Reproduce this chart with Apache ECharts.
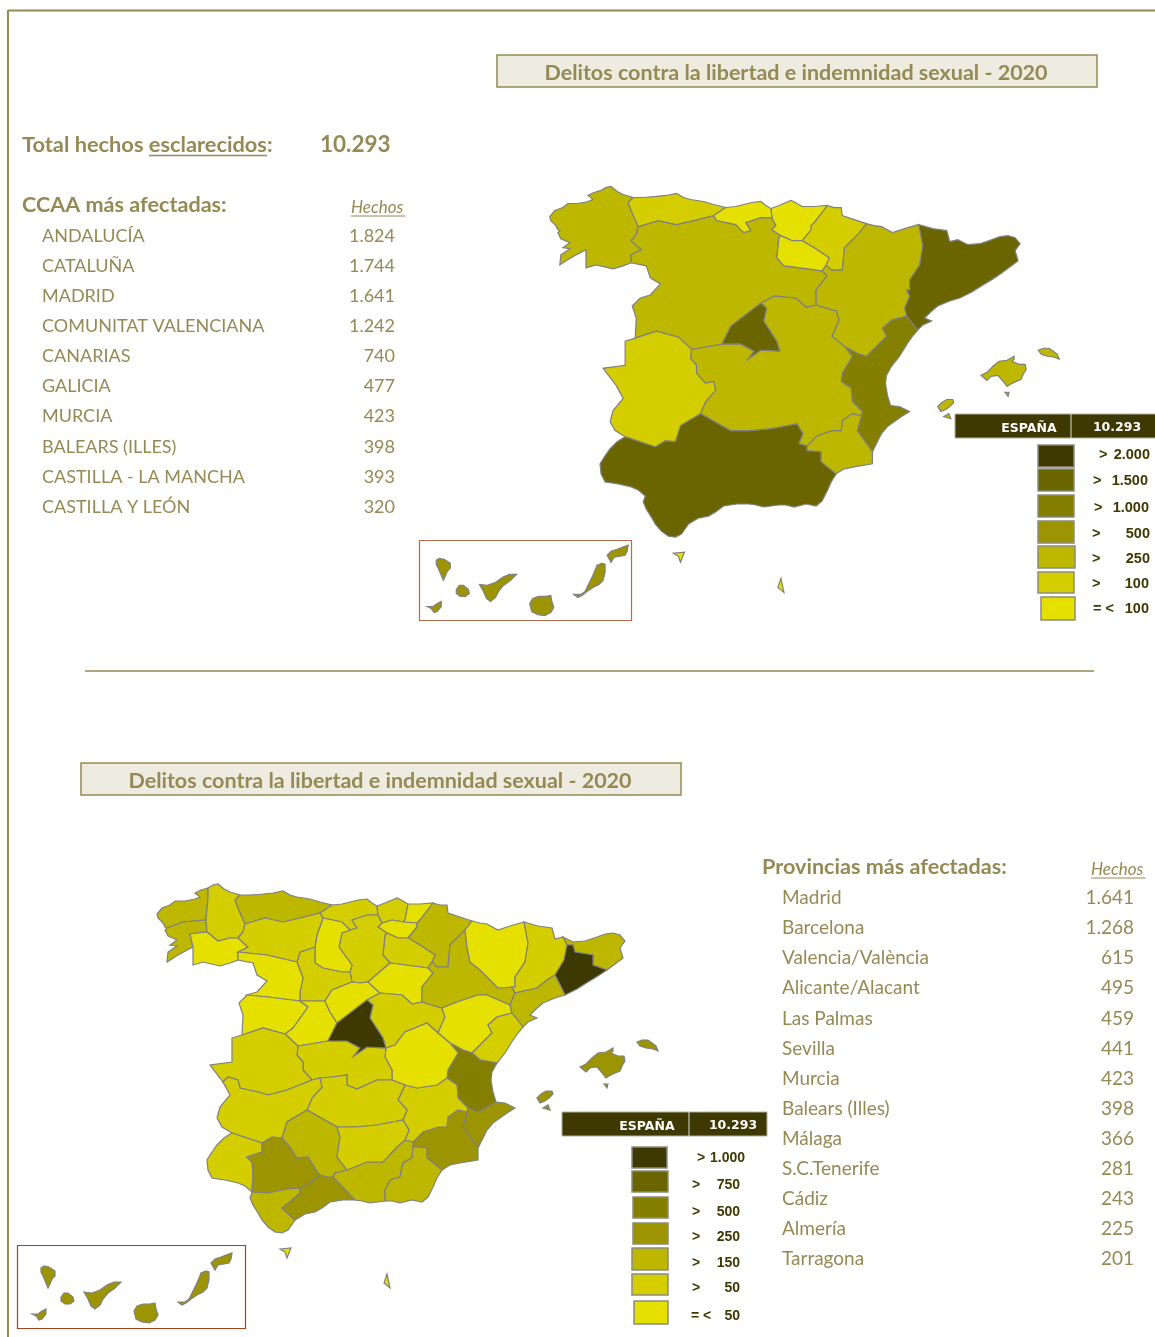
<!DOCTYPE html>
<html>
<head>
<meta charset="utf-8">
<title>Delitos contra la libertad e indemnidad sexual - 2020</title>
<style>
  html, body { margin: 0; padding: 0; background: #fff; }
  #chart { width: 1155px; height: 1337px; }
</style>
<script src="https://cdn.jsdelivr.net/npm/echarts@6/dist/echarts.min.js"></script>
</head>
<body>
<div id="chart"></div>
<script>
// hechos por CCAA: los 10 primeros salen de la tabla, el resto estimado por el color del mapa
const ccaaNames = ['ANDALUCÍA', 'CATALUÑA', 'MADRID', 'COMUNITAT VALENCIANA', 'CANARIAS', 'GALICIA', 'MURCIA', 'BALEARS (ILLES)', 'CASTILLA - LA MANCHA', 'CASTILLA Y LEÓN', 'ARAGÓN', 'ASTURIAS', 'NAVARRA', 'EXTREMADURA', 'PAÍS VASCO', 'CANTABRIA', 'LA RIOJA', 'CEUTA', 'MELILLA']
const ccaaValues = [1824, 1744, 1641, 1242, 740, 477, 423, 398, 393, 320, 260, 155, 155, 115, 90, 54, 51, 5, 6]
const ccaaListed = 10

// hechos por provincia: los 13 primeros salen de la tabla, el resto estimado
const provNames = ['Madrid', 'Barcelona', 'Valencia/València', 'Alicante/Alacant', 'Las Palmas', 'Sevilla', 'Murcia', 'Balears (Illes)', 'Málaga', 'S.C.Tenerife', 'Cádiz', 'Almería', 'Tarragona',
  'Lleida', 'Girona', 'Castellón', 'Granada', 'Córdoba', 'Huelva', 'Jaén', 'A Coruña', 'Pontevedra', 'Lugo', 'Ourense', 'Asturias', 'Cantabria', 'Bizkaia', 'Gipuzkoa', 'Álava', 'Navarra', 'La Rioja',
  'León', 'Palencia', 'Burgos', 'Zamora', 'Valladolid', 'Soria', 'Salamanca', 'Ávila', 'Segovia', 'Zaragoza', 'Huesca', 'Teruel', 'Guadalajara', 'Cuenca', 'Toledo', 'Ciudad Real', 'Albacete', 'Cáceres', 'Badajoz', 'Ceuta', 'Melilla']
const provValues = [1641, 1268, 615, 495, 459, 441, 423, 398, 366, 281, 243, 225, 201,
  100, 175, 132, 195, 170, 95, 89, 190, 172, 70, 45, 155, 54, 55, 22, 13, 155, 51,
  70, 20, 55, 20, 60, 10, 45, 15, 25, 175, 45, 40, 55, 23, 140, 100, 75, 55, 60, 5, 6]
const provListed = 13

const totalHechos = '10.293'

// tramos de la leyenda, de mayor a menor
const legendColors = ['#3e3900', '#6b6500', '#857f00', '#9c9400', '#bdb700', '#d4cd00', '#e6e000']
const ccaaLimits = [2000, 1500, 1000, 500, 250, 100]
const ccaaLegendOps = ['>', '>', '>', '>', '>', '>', '= <']
const ccaaLegendVals = ['2.000', '1.500', '1.000', '500', '250', '100', '100']
const provLimits = [1000, 750, 500, 250, 150, 50]
const provLegendOps = ['>', '>', '>', '>', '>', '>', '= <']
const provLegendVals = ['1.000', '750', '500', '250', '150', '50', '50']

// contornos calcados a mano (unidades de mapa, y hacia abajo); varios anillos separados por |
const provShapes = {
  'A Coruña': '167,928 165,927 163,923 158,918 157,914 162,908 170,905 175,901 185,901 195,899 200,897 195,893 201,890 208,888 208,898 206,920 183,922',
  'Pontevedra': '167,962 168,952 177,946 170,945 177,940 168,936 165,930 167,928 183,922 206,920 207,932 190,934 193,947 178,955',
  'Lugo': '208,888 213,885 218,884 224,889 230,892 240,895 235,900 238,908 245,924 243,932 238,938 230,938 218,941 207,932 206,920 208,898',
  'Ourense': '190,934 207,932 218,941 230,938 238,938 248,947 238,952 238,960 230,963 220,966 203,962 193,965 193,947',
  'Asturias': '240,895 250,895 263,894 273,893 283,891 290,895 297,897 310,899 320,902 332,905 320,913 300,918 283,922 265,918 245,924 238,908 235,900',
  'Cantabria': '332,905 342,904 350,902 358,900 367,899 372,903 377,906 378,915 367,915 352,920 357,928 350,930 342,922 323,918 320,913',
  'Bizkaia': '377,906 385,903 397,898 403,901 408,904 405,920 403,922 392,920 382,923 378,915',
  'Gipuzkoa': '408,904 420,904 433,903 420,920 417,923 403,922 405,920',
  'Álava': '382,923 392,920 403,922 417,923 417,927 408,938 398,938 387,933 378,927',
  'Navarra': '433,903 440,905 447,905 448,913 460,917 472,921 465,930 450,945 448,967 437,967 432,962 435,955 420,945 408,938 417,927 417,923 420,920',
  'La Rioja': '385,935 387,933 398,938 408,938 420,945 435,955 432,962 428,968 413,966 398,964 390,963 383,955',
  'Burgos': '367,915 378,915 382,923 378,927 387,933 385,935 383,955 390,963 368,982 360,983 352,982 350,972 352,965 339,947 342,933 350,930 357,928 352,920',
  'Palencia': '323,918 342,922 350,930 342,933 339,947 352,965 350,972 342,972 323,968 315,963 315,947 317,935',
  'Valladolid': '300,952 315,947 315,963 323,968 342,972 350,972 352,982 332,990 325,1001 307,1001 300,1001 300,992 303,978 297,962',
  'León': '245,924 265,918 283,922 300,918 320,913 323,918 317,935 315,947 300,952 297,962 267,955 238,952 248,947 238,938 243,932',
  'Zamora': '238,952 267,955 297,962 303,978 300,992 300,1001 268,997 247,995 257,992 267,981 257,975 253,963 238,960',
  'Salamanca': '247,995 268,997 300,1001 308,1007 293,1028 285,1034 263,1028 242,1035 243,1015 239,1003',
  'Ávila': '300,1001 307,1001 325,1001 330,1012 337,1023 328,1041 298,1046 285,1034 293,1028 308,1007',
  'Segovia': '325,1001 332,990 352,982 360,983 368,982 380,993 367,1000 363,1003 350,1013 337,1023 330,1012',
  'Soria': '390,963 398,964 413,966 428,968 433,973 422,987 422,1002 412,1004 402,995 380,993 368,982',
  'Guadalajara': '380,993 402,995 412,1004 422,1002 442,1008 445,1017 438,1033 427,1023 405,1032 395,1045 386,1048 383,1038 370,1018 373,1005 367,1000',
  'Zaragoza': '465,930 467,947 470,962 480,970 498,988 512,987 515,993 510,1005 487,995 478,995 457,1002 442,1008 422,1002 422,987 433,973 428,968 432,962 437,967 448,967 450,945',
  'Huesca': '472,921 480,923 487,924 498,930 510,926 524,922 528,943 525,962 515,977 515,987 512,987 498,988 480,970 470,962 467,947 465,930',
  'Teruel': '442,1008 457,1002 478,995 487,995 510,1005 512,1013 497,1017 488,1025 492,1033 480,1045 472,1053 463,1050 450,1043 438,1033 445,1017',
  'Lleida': '524,922 538,926 552,928 555,939 563,937 567,945 564,960 555,975 547,980 537,988 515,993 512,987 515,987 515,977 525,962 528,943',
  'Girona': '563,937 573,942 585,941 597,937 605,934 613,933 620,935 625,941 620,948 623,958 607,970 593,965 593,955 575,952 573,945 567,945',
  'Barcelona': '567,945 573,945 575,952 593,955 593,965 607,970 598,976 588,982 577,989 565,995 555,975 564,960',
  'Tarragona': '555,975 565,995 555,998 543,1003 536,1009 530,1015 537,1018 528,1022 523,1027 512,1013 510,1005 515,993 537,988 547,980',
  'Castellón': '512,1013 523,1027 518,1033 513,1040 505,1053 497,1063 480,1060 472,1053 480,1045 492,1033 488,1025 497,1017',
  'Valencia/València': '450,1043 463,1050 472,1053 480,1060 497,1063 492,1072 491,1080 493,1092 496,1102 478,1112 468,1108 458,1098 457,1085 447,1078 448,1070 458,1053',
  'Alicante/Alacant': '468,1108 478,1112 496,1102 505,1103 515,1108 507,1113 500,1118 493,1123 487,1130 482,1140 478,1148 463,1127 467,1112',
  'Murcia': '413,1142 423,1132 438,1127 447,1127 448,1117 458,1110 467,1112 463,1127 478,1148 478,1160 460,1163 450,1165 442,1170 427,1158 427,1148 417,1147 413,1147',
  'Albacete': '405,1085 417,1088 437,1085 447,1078 457,1085 458,1098 468,1108 467,1112 458,1110 448,1117 447,1127 438,1127 423,1132 413,1142 405,1140 409,1130 403,1120 407,1110 398,1100',
  'Cuenca': '386,1048 395,1045 405,1032 427,1023 438,1033 450,1043 458,1053 448,1070 447,1078 437,1085 417,1088 405,1085 392,1080 392,1070 385,1057',
  'Toledo': '298,1046 328,1041 347,1041 360,1048 354,1056 367,1047 386,1048 385,1057 392,1070 392,1080 377,1080 357,1089 347,1085 347,1075 332,1077 320,1078 312,1080 303,1070 303,1062 297,1055',
  'Madrid': '367,1000 373,1005 370,1018 383,1038 386,1048 367,1047 354,1056 360,1048 347,1041 328,1041 337,1023 350,1013 363,1003',
  'Ciudad Real': '320,1078 332,1077 347,1075 347,1085 357,1089 377,1080 392,1080 405,1085 398,1100 407,1110 403,1120 377,1125 355,1127 337,1127 307,1110 312,1098 322,1087',
  'Cáceres': '232,1038 242,1035 263,1028 285,1034 298,1046 297,1055 303,1062 303,1070 312,1080 287,1090 268,1095 258,1092 240,1088 238,1080 228,1077 223,1082 210,1065 232,1062',
  'Badajoz': '223,1082 228,1077 238,1080 240,1088 258,1092 268,1095 287,1090 312,1080 320,1078 322,1087 312,1098 307,1110 287,1122 282,1138 272,1137 262,1143 232,1133 222,1127 217,1118 220,1107 230,1095',
  'Huelva': '232,1133 262,1143 262,1152 247,1157 252,1162 253,1173 252,1192 245,1186 238,1183 225,1180 212,1178 208,1170 207,1160 212,1152 217,1145 224,1138',
  'Sevilla': '262,1143 272,1137 282,1138 290,1147 297,1158 308,1157 318,1173 320,1175 310,1183 300,1188 287,1189 268,1193 252,1192 253,1173 252,1162 247,1157 262,1152',
  'Cádiz': '252,1192 268,1193 287,1189 300,1188 300,1193 292,1200 282,1208 295,1220 288,1230 282,1233 275,1232 268,1227 262,1220 258,1213 253,1205 250,1198',
  'Málaga': '320,1175 328,1177 333,1177 355,1200 343,1200 330,1202 322,1208 315,1212 305,1214 295,1220 282,1208 292,1200 300,1193 300,1188 310,1183',
  'Córdoba': '307,1110 337,1127 340,1137 337,1157 347,1170 335,1173 333,1177 328,1177 320,1175 318,1173 308,1157 297,1158 290,1147 282,1138 287,1122',
  'Granada': '405,1140 413,1142 413,1147 412,1158 403,1163 400,1177 390,1180 385,1190 385,1201 370,1203 362,1201 355,1200 333,1177 335,1173 347,1170 367,1162 383,1162 397,1147',
  'Jaén': '337,1127 355,1127 377,1125 403,1120 409,1130 405,1140 397,1147 383,1162 367,1162 347,1170 337,1157 340,1137',
  'Almería': '413,1147 417,1147 427,1148 427,1158 442,1170 437,1178 433,1187 428,1197 422,1202 412,1200 400,1203 392,1201 385,1201 385,1190 390,1180 400,1177 403,1163 412,1158',
  'Balears (Illes)': '580,1067 586,1064 592,1058 598,1053 606,1052 613,1048 613,1051 611,1053 618,1056 624,1056 625,1061 622,1066 620,1071 613,1074 609,1076 606,1078 602,1073 597,1067 590,1068 586,1072|637,1042 642,1040 648,1040 652,1043 656,1046 658,1051 653,1049 646,1048 640,1046|537,1098 541,1094 546,1091 552,1091 553,1094 549,1098 545,1101 540,1103|543,1108 548,1105 550,1110|604,1084 608,1084 607,1088',
  'Las Palmas': '211,1263 215,1259 221,1257 226,1255 232,1253 231,1259 229,1263 224,1264 218,1265 215,1270|178,1302 185,1302 189,1299 192,1293 196,1285 199,1278 201,1273 206,1271 209,1272 209,1280 207,1288 203,1292 197,1295 191,1299 186,1303 182,1305|134,1311 137,1306 143,1304 150,1304 155,1303 156,1309 158,1315 155,1320 149,1323 142,1322 136,1319',
  'S.C.Tenerife': '84,1292 92,1293 100,1290 107,1285 114,1282 121,1282 115,1288 108,1293 103,1299 100,1305 95,1309 91,1306 88,1299|41,1268 44,1266 49,1267 55,1271 55,1276 52,1279 50,1284 48,1288 46,1283 43,1276 41,1272|61,1297 64,1293 68,1293 73,1297 74,1301 70,1304 65,1304 61,1301|32,1314 38,1314 42,1311 46,1309 46,1314 42,1319 39,1320 36,1316',
  'Ceuta': '280,1249 291,1248 287,1258 285,1252',
  'Melilla': '387,1274 390,1288 384,1283'
}

const ccaaProvinces = {
  'ANDALUCÍA': ['Huelva', 'Sevilla', 'Cádiz', 'Málaga', 'Córdoba', 'Granada', 'Jaén', 'Almería'],
  'CATALUÑA': ['Lleida', 'Girona', 'Barcelona', 'Tarragona'],
  'MADRID': ['Madrid'],
  'COMUNITAT VALENCIANA': ['Castellón', 'Valencia/València', 'Alicante/Alacant'],
  'CANARIAS': ['Las Palmas', 'S.C.Tenerife'],
  'GALICIA': ['A Coruña', 'Pontevedra', 'Lugo', 'Ourense'],
  'MURCIA': ['Murcia'],
  'BALEARS (ILLES)': ['Balears (Illes)'],
  'CASTILLA - LA MANCHA': ['Toledo', 'Ciudad Real', 'Cuenca', 'Guadalajara', 'Albacete'],
  'CASTILLA Y LEÓN': ['León', 'Palencia', 'Burgos', 'Zamora', 'Valladolid', 'Soria', 'Salamanca', 'Ávila', 'Segovia'],
  'ARAGÓN': ['Zaragoza', 'Huesca', 'Teruel'],
  'ASTURIAS': ['Asturias'],
  'NAVARRA': ['Navarra'],
  'EXTREMADURA': ['Cáceres', 'Badajoz'],
  'PAÍS VASCO': ['Bizkaia', 'Gipuzkoa', 'Álava'],
  'CANTABRIA': ['Cantabria'],
  'LA RIOJA': ['La Rioja'],
  'CEUTA': ['Ceuta'],
  'MELILLA': ['Melilla']
}

const TEXT_COLOR = '#948a54'
const DARK = '#3e3900'
const FONT = 'Lato, "Open Sans", sans-serif'

function parseRings(str) {
  return str.split('|').map(r => r.trim().split(' ').map(p => p.split(',').map(Number)))
}

// bordes internos de la comunidad fuera: una arista que sale dos veces es frontera entre provincias
function mergeRings(rings) {
  const edges = {}
  rings.forEach(ring => {
    ring.forEach((p, i) => {
      const q = ring[(i + 1) % ring.length]
      const a = p.join(','), b = q.join(',')
      const key = a < b ? a + '|' + b : b + '|' + a
      edges[key] = (edges[key] || 0) + 1
    })
  })
  const next = {}
  Object.keys(edges).forEach(key => {
    if (edges[key] !== 1) return
    const [a, b] = key.split('|')
    ;(next[a] = next[a] || []).push(b)
    ;(next[b] = next[b] || []).push(a)
  })
  const out = []
  Object.keys(next).forEach(start => {
    while (next[start].length) {
      const ring = []
      let cur = start
      while (next[cur] && next[cur].length) {
        ring.push(cur.split(',').map(Number))
        const to = next[cur].pop()
        next[to].splice(next[to].indexOf(cur), 1)
        cur = to
      }
      out.push(ring)
    }
  })
  return out
}

function toGeoJson(shapes, shift) {
  return {
    type: 'FeatureCollection',
    features: Object.keys(shapes).map(name => ({
      type: 'Feature',
      properties: { name: name },
      geometry: {
        type: 'MultiPolygon',
        coordinates: shapes[name].map(ring => {
          const d = shift ? shift(name) : [0, 0]
          const pts = ring.map(p => [p[0] + d[0], -(p[1] + d[1])])
          pts.push(pts[0])
          return [pts]
        })
      }
    }))
  }
}

function extent(shapes, shift) {
  let x0 = Infinity, x1 = -Infinity, y0 = Infinity, y1 = -Infinity
  Object.keys(shapes).forEach(name => {
    const d = shift ? shift(name) : [0, 0]
    shapes[name].forEach(ring => ring.forEach(p => {
      x0 = Math.min(x0, p[0] + d[0]); x1 = Math.max(x1, p[0] + d[0])
      y0 = Math.min(y0, p[1] + d[1]); y1 = Math.max(y1, p[1] + d[1])
    }))
  })
  return { x0, x1, y0, y1 }
}

const provRings = {}
Object.keys(provShapes).forEach(n => { provRings[n] = parseRings(provShapes[n]) })

const ccaaRings = {}
Object.keys(ccaaProvinces).forEach(n => {
  ccaaRings[n] = mergeRings([].concat(...ccaaProvinces[n].map(p => provRings[p])))
})

// en el mapa de arriba las islas van algo desplazadas respecto a la península
const ccaaShift = name => name === 'CANARIAS' ? [3, -12] : name === 'BALEARS (ILLES)' ? [6, 5] : [0, 0]

echarts.registerMap('provincias', toGeoJson(provRings))
echarts.registerMap('ccaa', toGeoJson(ccaaRings, ccaaShift))

function pieces(limits) {
  const out = limits.map((v, i) => ({ gt: v, lte: i ? limits[i - 1] : 1e9, color: legendColors[i] }))
  out.push({ lte: limits[limits.length - 1], color: legendColors[6] })
  return out
}

function mapSeries(name, shapes, names, values, scale, ox, oy, shift) {
  const e = extent(shapes, shift)
  return {
    type: 'map',
    map: name,
    aspectScale: 1,
    left: e.x0 * scale + ox,
    top: e.y0 * scale + oy,
    width: (e.x1 - e.x0) * scale,
    height: (e.y1 - e.y0) * scale,
    silent: true,
    selectedMode: false,
    label: { show: false },
    emphasis: { disabled: true },
    itemStyle: { borderColor: '#808080', borderWidth: 1.2 },
    data: names.map((n, i) => ({ name: n, value: values[i] }))
  }
}

function text(x, y, str, font, fill, align) {
  return {
    type: 'text', silent: true,
    style: { x: x, y: y, text: str, font: font, fill: fill || TEXT_COLOR, align: align || 'left', verticalAlign: 'middle' }
  }
}
function line(x1, y1, x2, y2, color, width) {
  return { type: 'line', silent: true, shape: { x1, y1, x2, y2 }, style: { stroke: color || TEXT_COLOR, lineWidth: width || 1 } }
}
function box(x, y, w, h, fill, stroke, width) {
  return { type: 'rect', silent: true, shape: { x, y, width: w, height: h }, style: { fill: fill || 'transparent', stroke: stroke, lineWidth: width || 1 } }
}

function titleBox(x, y) {
  return [
    box(x, y, 600, 32, '#eeece1', TEXT_COLOR, 1.5),
    text(x + 299, y + 18, 'Delitos contra la libertad e indemnidad sexual - 2020', 'bold 21.5px ' + FONT, TEXT_COLOR, 'center')
  ]
}

function table(heading, headingX, hx, hy, names, values, nameX, valueX, y0, step, rowSize) {
  const rowFont = rowSize + 'px ' + FONT
  const els = [
    text(headingX, hy, heading, 'bold 21.6px ' + FONT),
    text(hx, hy + 2, 'Hechos', 'italic 17px ' + FONT),
    line(hx, hy + 10.5, hx + 54.5, hy + 10.5)
  ]
  names.forEach((n, i) => {
    els.push(text(nameX, y0 + i * step, n, rowFont))
    els.push(text(valueX, y0 + i * step, values[i].toLocaleString('de-DE'), rowFont, TEXT_COLOR, 'right'))
  })
  return els
}

function legend(cfg, ops, vals, size) {
  const labelFont = 'bold ' + size + 'px "Liberation Sans"'
  const els = [
    box(cfg.hx, cfg.hy, cfg.hw, 24, DARK, '#b0b0a0', 1),
    line(cfg.hdiv, cfg.hy, cfg.hdiv, cfg.hy + 24, '#ddd', 1),
    text(cfg.hdiv - 42, cfg.hy + 15, 'ESPAÑA', 'bold 12.5px "DejaVu Sans"', '#fff', 'center'),
    text(cfg.hdiv + cfg.totalDx, cfg.hy + 14, totalHechos, 'bold 12.5px "DejaVu Sans"', '#fff', 'center')
  ]
  legendColors.forEach((c, i) => {
    els.push(box(cfg.sx[i], cfg.sy[i], cfg.sw[i], cfg.sh[i], c, '#8c8c80', 1.5))
    els.push(text(cfg.opx[i], cfg.ty[i], ops[i], labelFont, DARK))
    els.push(text(cfg.vx[i], cfg.ty[i], vals[i], labelFont, DARK, 'right'))
  })
  return els
}

const topLegend = {
  hx: 955, hy: 414, hw: 201, hdiv: 1071, totalDx: 46,
  sx: [1038, 1038, 1038, 1038, 1038, 1038, 1041],
  sw: [36, 36, 36, 36, 37, 36, 34],
  sy: [445, 469, 495, 521, 546, 572, 597],
  sh: [22, 22, 22, 22, 22, 21, 23],
  ty: [455, 481, 508, 534, 559, 584, 609],
  opx: [1099, 1093, 1094, 1092, 1092, 1092, 1093],
  vx: [1150, 1148, 1149, 1150, 1150, 1149, 1149]
}
const botLegend = {
  hx: 562, hy: 1112, hw: 205, hdiv: 689, totalDx: 44,
  sx: [632, 632, 633, 633, 632, 632, 634],
  sw: [35, 36, 35, 35, 36, 36, 34],
  sy: [1147, 1171, 1197, 1223, 1248, 1274, 1301],
  sh: [21, 21, 21, 21, 22, 21, 23],
  ty: [1158, 1185, 1212, 1237, 1263, 1288, 1316],
  opx: [697, 692, 692, 692, 692, 692, 691],
  vx: [745, 740, 740, 740, 740, 740, 740]
}

const graphics = [].concat(
  // marco y separador
  line(8, 10.5, 1155, 10.5, TEXT_COLOR, 2),
  line(8, 10, 8, 1337, TEXT_COLOR, 2),
  line(85, 671, 1094, 671, TEXT_COLOR, 1.5),
  titleBox(497, 55),
  titleBox(81, 763),
  text(22, 145, 'Total hechos esclarecidos:', 'bold 21.8px ' + FONT),
  line(149, 155.5, 267, 155.5, TEXT_COLOR, 1.5),
  text(320, 145, totalHechos, 'bold 22.5px ' + FONT),
  table('CCAA más afectadas:', 22, 351, 205.5, ccaaNames.slice(0, ccaaListed), ccaaValues.slice(0, ccaaListed), 42, 395, 236, 30.1, 18),
  table('Provincias más afectadas:', 762, 1091, 867.5, provNames.slice(0, provListed), provValues.slice(0, provListed), 782, 1134, 898, 30.1, 19),
  box(419.5, 540.5, 212, 80, null, '#b8694a', 1.2),
  box(17.5, 1245.5, 228, 83, null, '#a8401e', 1.2),
  legend(topLegend, ccaaLegendOps, ccaaLegendVals, 14.5),
  legend(botLegend, provLegendOps, provLegendVals, 14)
)

const chart = echarts.init(document.getElementById('chart'), null, { renderer: 'canvas' })
chart.setOption({
  animation: false,
  backgroundColor: '#fff',
  visualMap: [
    { type: 'piecewise', show: false, seriesIndex: 0, pieces: pieces(ccaaLimits) },
    { type: 'piecewise', show: false, seriesIndex: 1, pieces: pieces(provLimits) }
  ],
  series: [
    mapSeries('ccaa', ccaaRings, ccaaNames, ccaaValues, 1.005, 392, -702, ccaaShift),
    mapSeries('provincias', provRings, provNames, provValues, 1, 0, 0)
  ],
  graphic: { elements: graphics }
})
</script>
</body>
</html>
